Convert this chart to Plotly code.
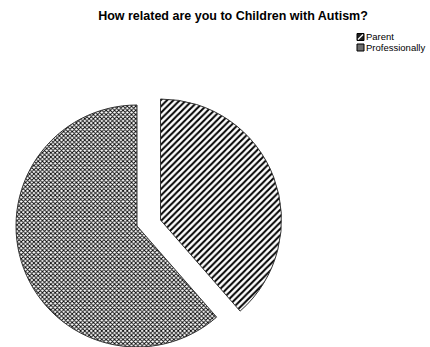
import plotly.graph_objects as go

# Survey responses: how respondents relate to children with autism
labels = ["Parent", "Professionally"]
counts = [27, 43]
title_text = "How related are you to Children with Autism?"

W, H = 430, 347
R = 121                      # slice radius in px
CENTER_PARENT = (160.5, 220.0)
CENTER_PROF = (137.0, 226.0)
CLEAR = "rgba(0,0,0,0)"
EDGE = "#333333"


def dom(cx, cy, r):
    """Pie domain (paper fractions) for a pie of radius r centred at pixel (cx, cy)."""
    return dict(x=[(cx - r) / W, (cx + r) / W],
                y=[max(0.0, 1 - (cy + r) / H), 1 - (cy - r) / H])


def px(x):
    return x / W


def py(y):
    return 1 - y / H


common = dict(labels=labels, values=counts, sort=False, direction="clockwise",
              rotation=0, textinfo="none", hoverinfo="label+value+percent",
              showlegend=False)

# Parent slice (exploded away from the rest)
parent = go.Pie(
    **common,
    domain=dom(*CENTER_PARENT, R),
    marker=dict(
        colors=["white", CLEAR],
        pattern=dict(shape=["/", ""], fgcolor="black", bgcolor="white",
                     size=4.5, solidity=0.45, fillmode="replace"),
        line=dict(color=[EDGE, CLEAR], width=[1, 0]),
    ),
)

# Professionally slice
prof = go.Pie(
    **common,
    domain=dom(*CENTER_PROF, R),
    marker=dict(
        colors=[CLEAR, "white"],
        pattern=dict(shape=["", "x"], fgcolor="black", bgcolor="white",
                     size=3, solidity=0.5, fillmode="replace"),
        line=dict(color=[CLEAR, EDGE], width=[0, 1]),
    ),
)

fig = go.Figure([prof, parent])

# Compact legend keys drawn in the top-right corner
key_x0, key_x1 = 357, 364
rows = [37.0, 47.5]
shapes = []
annotations = []
key_fills = ["#1e1e1e", "#6e6e6e"]
for lab, yc, fill in zip(labels, rows, key_fills):
    shapes.append(dict(type="rect", xref="paper", yref="paper",
                       x0=px(key_x0), x1=px(key_x1),
                       y0=py(yc + 3.5), y1=py(yc - 3.5),
                       fillcolor=fill, line=dict(color="black", width=1)))
    annotations.append(dict(text=lab, xref="paper", yref="paper",
                            x=px(365), y=py(yc), xanchor="left", yanchor="middle",
                            showarrow=False, borderpad=0,
                            font=dict(family="Arial", size=9.5, color="black")))
# white diagonal on the Parent key
shapes.append(dict(type="line", xref="paper", yref="paper",
                   x0=px(key_x0 + 1), y0=py(rows[0] + 2.5),
                   x1=px(key_x1 - 1), y1=py(rows[0] - 2.5),
                   line=dict(color="white", width=1.3)))

fig.update_layout(
    width=W, height=H,
    margin=dict(l=0, r=0, t=0, b=0),
    paper_bgcolor="white",
    plot_bgcolor="white",
    title=dict(text="<b>" + title_text + "</b>", x=233 / W, xanchor="center",
               y=1 - 16 / H, yanchor="middle", yref="container",
               font=dict(family="Arial", size=12.5, color="black")),
    shapes=shapes,
    annotations=annotations,
)

fig.write_html("out.html")
